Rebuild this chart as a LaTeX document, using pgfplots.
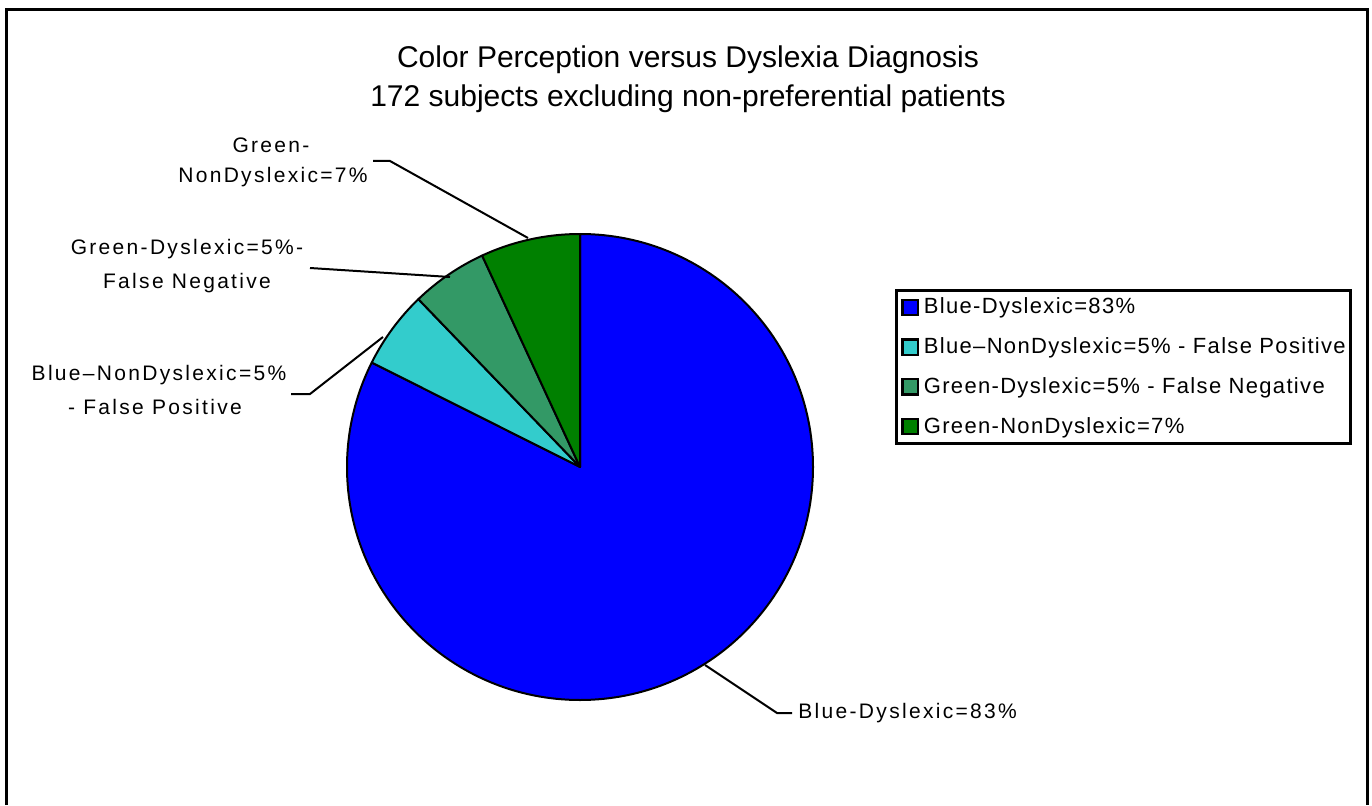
\documentclass[border=0pt]{standalone}
\usepackage{pgfplots}
\usepackage{pgfplotstable}
\pgfplotsset{compat=1.18}
\usepackage{fontspec}
\setmainfont{Liberation Sans}
\definecolor{pieblue}{RGB}{0,0,255}
\definecolor{piecyan}{RGB}{51,204,204}
\definecolor{pieteal}{RGB}{51,153,102}
\definecolor{piegreen}{RGB}{0,128,0}

\pgfplotstableread{
value color
82.4 pieblue
5.4 piecyan
5.3 pieteal
6.9 piegreen
}\piedata

\newcommand\lblfont{\fontsize{10.5}{12}\selectfont\addfontfeature{LetterSpace=11}}

\begin{document}
\begin{tikzpicture}
\begin{axis}[
  scale only axis, width=686pt, height=402.5pt,
  xmin=0, xmax=1372, ymin=0, ymax=805,
  hide axis, clip=false,
  legend style={at={(895/1372,516/805)}, anchor=north west, draw=black, line width=1.5pt,
    font=\fontsize{11}{13}\selectfont\addfontfeature{LetterSpace=6}, row sep=8pt, inner xsep=1pt, inner ysep=2.5pt,
    nodes={inner sep=1.2pt}},
  legend cell align=left,
  sq/.style={legend image code/.code={\path[draw=none, fill=none] (0pt,-1pt) rectangle (11.5pt,1pt);\draw[fill=#1, draw=black, line width=1.2pt] (2pt,-3.8pt) rectangle (9.6pt,3.8pt);}},
]
\coordinate (bl) at (axis cs:0,0);
\coordinate (tr) at (axis cs:1372,805);
\addlegendimage{sq=pieblue}
\addlegendentry{Blue-Dyslexic=83\%}
\addlegendimage{sq=piecyan}
\addlegendentry{Blue--NonDyslexic=5\%  - False Positive}
\addlegendimage{sq=pieteal}
\addlegendentry{Green-Dyslexic=5\%  - False Negative}
\addlegendimage{sq=piegreen}
\addlegendentry{Green-NonDyslexic=7\%}

\pgfplotsextra{%
  \gdef\curang{90}%
  \pgfplotstableforeachcolumnelement{value}\of\piedata\as\val{%
    \pgfplotstablegetelem{\pgfplotstablerow}{color}\of\piedata
    \let\wcol\pgfplotsretval
    \pgfmathsetmacro\endang{\curang-3.6*\val}%
    \filldraw[fill=\wcol, draw=black, line width=1pt, line join=round]
      (axis cs:580,338) -- ++(\curang:116.5pt)
      arc[start angle=\curang, end angle=\endang, radius=116.5pt] -- cycle;
    \xdef\curang{\endang}%
  }%
  % frame
  \draw[line width=1.5pt] (axis cs:6,0) -- (axis cs:6,795) -- (axis cs:1367,795) -- (axis cs:1367,0);
  % leader lines
  \draw[line width=1pt] (axis cs:373,644) -- (axis cs:390,644) -- (axis cs:528,567);
  \draw[line width=1pt] (axis cs:310,537) -- (axis cs:450,528);
  \draw[line width=1pt] (axis cs:291,411) -- (axis cs:310,411) -- (axis cs:383,468);
  \draw[line width=1pt] (axis cs:705,140) -- (axis cs:777,92) -- (axis cs:792,92);
}

\node[font=\fontsize{15}{18}\selectfont] at (axis cs:688,745) {Color Perception versus Dyslexia Diagnosis};
\node[font=\fontsize{15}{18}\selectfont] at (axis cs:688,706) {172 subjects excluding non-preferential patients};

\node[font=\lblfont] at (axis cs:271,660) {Green-};
\node[font=\lblfont] at (axis cs:273,628) {NonDyslexic=7\%};
\node[font=\lblfont] at (axis cs:187,556) {Green-Dyslexic=5\%-};
\node[font=\lblfont] at (axis cs:187,522) {False Negative};
\node[font=\lblfont] at (axis cs:159,430) {Blue--NonDyslexic=5\%};
\node[font=\lblfont] at (axis cs:155,398) {- False Positive};
\node[font=\lblfont, anchor=west, inner xsep=1pt] at (axis cs:796,92) {Blue-Dyslexic=83\%};
\end{axis}
\pgfresetboundingbox
\useasboundingbox (bl) rectangle (tr);
\end{tikzpicture}
\end{document}
